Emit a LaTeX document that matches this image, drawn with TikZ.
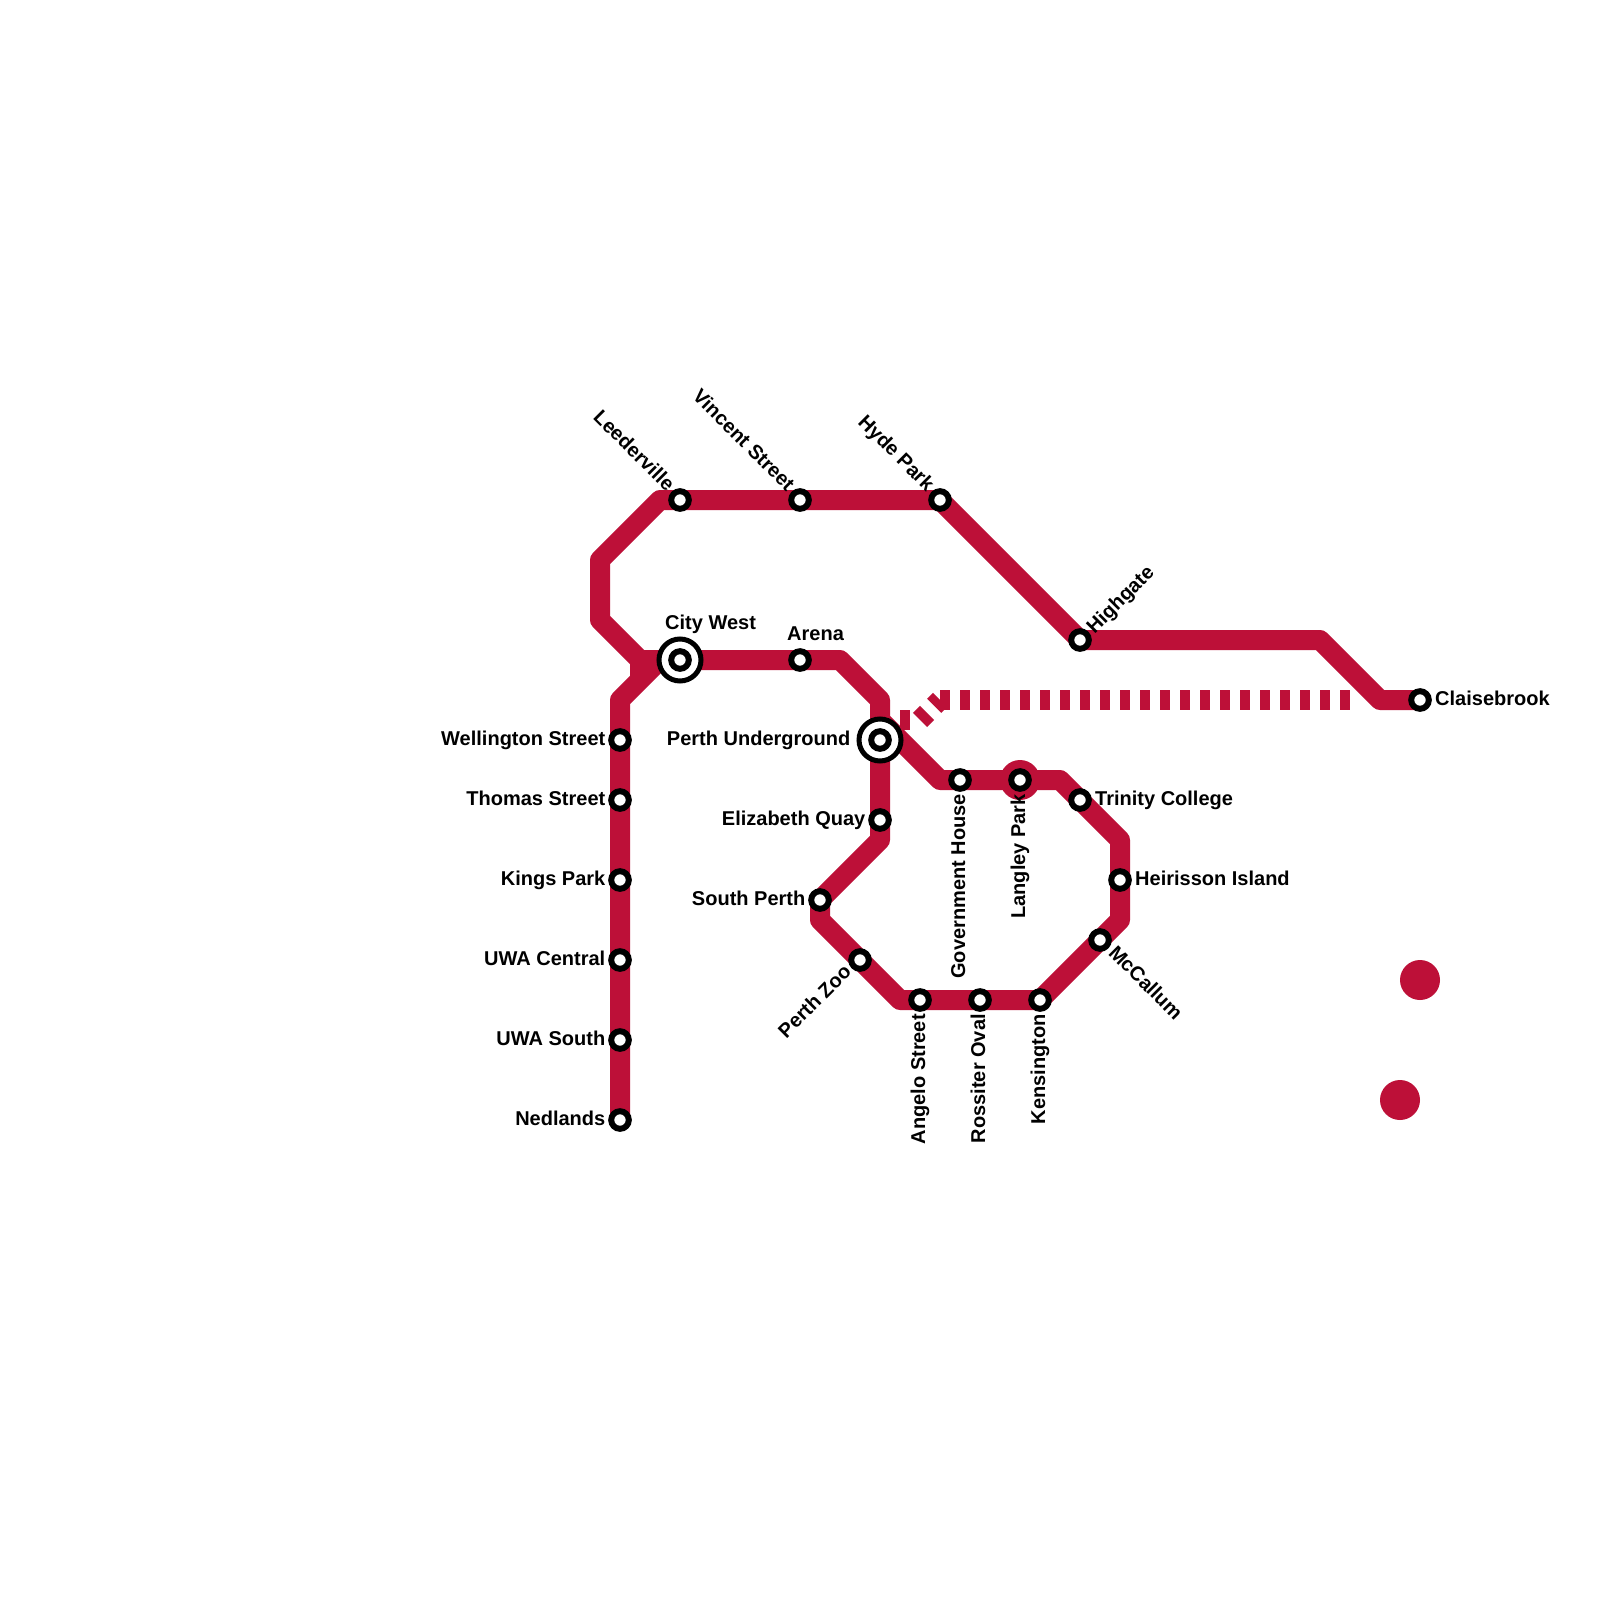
\documentclass[tikz,border=0pt]{standalone}
\usepackage{fontspec}
\setmainfont{Liberation Sans}
\usetikzlibrary{backgrounds}
\definecolor{lineRed}{HTML}{BD1038}
\tikzset{
  x=1pt,y=-1pt,
  metro/.style={draw=lineRed,line width=20pt,line join=round,line cap=butt},
  metrodash/.style={draw=lineRed,line width=20pt,line cap=butt,dash pattern=on 10pt off 10pt},
  stn/.style={circle,draw=black,fill=white,line width=6pt,minimum size=17.6pt,inner sep=0pt,outer sep=0pt},
  ringstn/.style={circle,draw=black,fill=white,line width=5pt,minimum size=42pt,inner sep=0pt,outer sep=0pt},
  blob/.style={circle,fill=lineRed,minimum size=40pt,inner sep=0pt,outer sep=0pt},
  lab/.style={font=\fontsize{20}{24}\selectfont\bfseries,inner sep=0pt,text=black},
  labL/.style={lab,anchor=base east},
  labR/.style={lab,anchor=base west},
  labV/.style={lab,anchor=base east,rotate=90},
  labNW/.style={lab,anchor=base east,rotate=-45},
  labNE/.style={lab,anchor=base west,rotate=45},
  labSE/.style={lab,anchor=base west,rotate=-45},
  labSW/.style={lab,anchor=base east,rotate=45},
}
\begin{document}
\begin{tikzpicture}
\useasboundingbox (0,0) rectangle (1600,1600);
% bends
\coordinate (b1) at (620,700);
\coordinate (b2) at (640,680);
\coordinate (b3) at (660,660);
\coordinate (b4) at (640,660);
\coordinate (b5) at (600,620);
\coordinate (b6) at (600,560);
\coordinate (b7) at (660,500);
\coordinate (b8) at (1320,640);
\coordinate (b9) at (1380,700);
\coordinate (b10) at (840,660);
\coordinate (b11) at (880,700);
\coordinate (b12) at (880,840);
\coordinate (b13) at (820,920);
\coordinate (b14) at (900,1000);
\coordinate (b15) at (1120,920);
\coordinate (b16) at (1120,840);
\coordinate (b17) at (1060,780);
\coordinate (b18) at (940,780);
\coordinate (b19) at (880,720);
\coordinate (d1) at (920,720);
\coordinate (d2) at (940,700);
\coordinate (d3) at (1350,700);
% decorative discs
\node[blob] (langleydisc) at (1020,780) {};
\node[blob] (disca) at (1420,980) {};
\node[blob] (discb) at (1400,1100) {};
% interchange rings
\node[ringstn] (cityring) at (680,660) {};
\node[ringstn] (perthring) at (880,740) {};
% stations
\node[stn] (leederville) at (680,500) {};
\node[stn] (vincent) at (800,500) {};
\node[stn] (hyde) at (940,500) {};
\node[stn] (highgate) at (1080,640) {};
\node[stn] (claisebrook) at (1420,700) {};
\node[stn] (citywest) at (680,660) {};
\node[stn] (arena) at (800,660) {};
\node[stn] (perth) at (880,740) {};
\node[stn] (elizabeth) at (880,820) {};
\node[stn] (southperth) at (820,900) {};
\node[stn] (zoo) at (860,960) {};
\node[stn] (angelo) at (920,1000) {};
\node[stn] (rossiter) at (980,1000) {};
\node[stn] (kensington) at (1040,1000) {};
\node[stn] (mccallum) at (1100,940) {};
\node[stn] (heirisson) at (1120,880) {};
\node[stn] (trinity) at (1080,800) {};
\node[stn] (langley) at (1020,780) {};
\node[stn] (government) at (960,780) {};
\node[stn] (wellington) at (620,740) {};
\node[stn] (thomas) at (620,800) {};
\node[stn] (kings) at (620,880) {};
\node[stn] (uwac) at (620,960) {};
\node[stn] (uwas) at (620,1040) {};
\node[stn] (nedlands) at (620,1120) {};
% lines
\begin{pgfonlayer}{background}
\fill[white] (0,0) rectangle (1600,1600);
\draw[metro] (nedlands.center) -- (b1) -- (b3) -- (citywest.center) -- (arena.center) -- (b10) -- (b11) -- (perth.center) -- (b12) -- (southperth.center) -- (b13) -- (b14) -- (kensington.center) -- (b15) -- (b16) -- (b17) -- (b18) -- (b19);
\draw[metro] (b2) -- (b4) -- (b5) -- (b6) -- (b7) -- (hyde.center) -- (highgate.center) -- (b8) -- (b9) -- (claisebrook.center);
\draw[metro] (b4) -- (citywest.center);
\draw[metrodash] (b19) -- (d1);
\draw[metrodash] (d1) -- (d2);
\draw[metrodash] (d2) -- (d3);
\end{pgfonlayer}
% labels
\node[labL] (tWellington) at (605.5,745) {Wellington Street};
\node[labL] (tThomas) at (605.5,805) {Thomas Street};
\node[labL] (tKings) at (605.5,885) {Kings Park};
\node[labL] (tUwac) at (605.5,965) {UWA Central};
\node[labL] (tUwas) at (605.5,1045) {UWA South};
\node[labL] (tNedlands) at (605.5,1125) {Nedlands};
\node[labL] (tPerth) at (850.5,745) {Perth Underground};
\node[labL] (tElizabeth) at (865.5,825) {Elizabeth Quay};
\node[labL] (tSouth) at (805.5,905) {South Perth};
\node[labR] (tCity) at (665,629) {City West};
\node[labR] (tArena) at (787,640) {Arena};
\node[labR] (tClaise) at (1435,705) {Claisebrook};
\node[labR] (tTrinity) at (1095,805) {Trinity College};
\node[labR] (tHeir) at (1135,885) {Heirisson Island};
\node[labV] (tGov) at (965,794) {Government House};
\node[labV] (tLangley) at (1025,794) {Langley Park};
\node[labV] (tAngelo) at (925,1014) {Angelo Street};
\node[labV] (tRossiter) at (985,1014) {Rossiter Oval};
\node[labV] (tKens) at (1045,1014) {Kensington};
\node[labNW] (tLeed) at (666.5,492.5) {Leederville};
\node[labNW] (tVincent) at (786.5,492.5) {Vincent Street};
\node[labNW] (tHyde) at (926.5,492.5) {Hyde Park};
\node[labNE] (tHigh) at (1094.5,634.5) {Highgate};
\node[labSE] (tMcc) at (1107.5,954) {McCallum};
\node[labSW] (tZoo) at (852.5,973) {Perth Zoo};
\end{tikzpicture}
\end{document}
